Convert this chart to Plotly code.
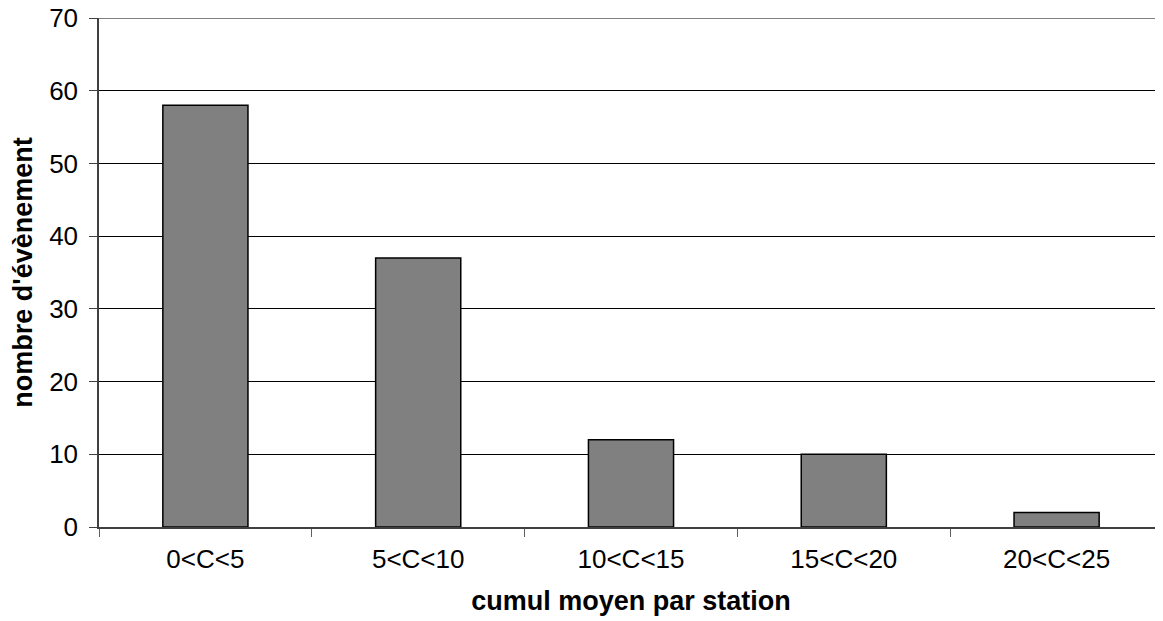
import plotly.graph_objects as go

categories = ["0<C<5", "5<C<10", "10<C<15", "15<C<20", "20<C<25"]
counts = [58, 37, 12, 10, 2]
y_ticks = [0, 10, 20, 30, 40, 50, 60, 70]

fig = go.Figure(go.Bar(
    x=categories, y=counts,
    marker=dict(color="#808080", line=dict(color="#000000", width=1.5)),
    width=0.4,
))

font = dict(family="Liberation Sans, Arial, sans-serif", color="#000000")
# page body has an 8px default margin, so the figure is 8px smaller than the window
fig.update_layout(
    width=1155, height=613,
    margin=dict(l=91, r=0, t=10, b=94),
    plot_bgcolor="white", paper_bgcolor="white",
    font=dict(size=26, **font),
    showlegend=False,
    bargap=0.6,
)
fig.update_xaxes(
    tickson="boundaries", ticks="outside", ticklen=8, tickcolor="#606060",
    showline=True, linecolor="#404040", linewidth=1.5,
    showgrid=False, ticklabelstandoff=8,
    tickfont=dict(size=26, **font),
    title=dict(text="<b>cumul moyen par station</b>", font=dict(size=27, **font), standoff=18),
)
fig.update_yaxes(
    range=[0, 70], tickvals=y_ticks, ticks="outside", ticklen=8, tickcolor="#404040",
    showline=True, linecolor="#404040", linewidth=1.5,
    showgrid=True, gridcolor="#000000", gridwidth=1, zeroline=False,
    tickfont=dict(size=26, **font), ticklabelstandoff=6, automargin=False,
    ticklabeloverflow="allow",
    title=dict(text="<b>nombre d'évènement</b>", font=dict(size=27, **font), standoff=10),
)
fig.add_hline(y=70, line=dict(color="#808080", width=2))
fig.write_html("out.html")
